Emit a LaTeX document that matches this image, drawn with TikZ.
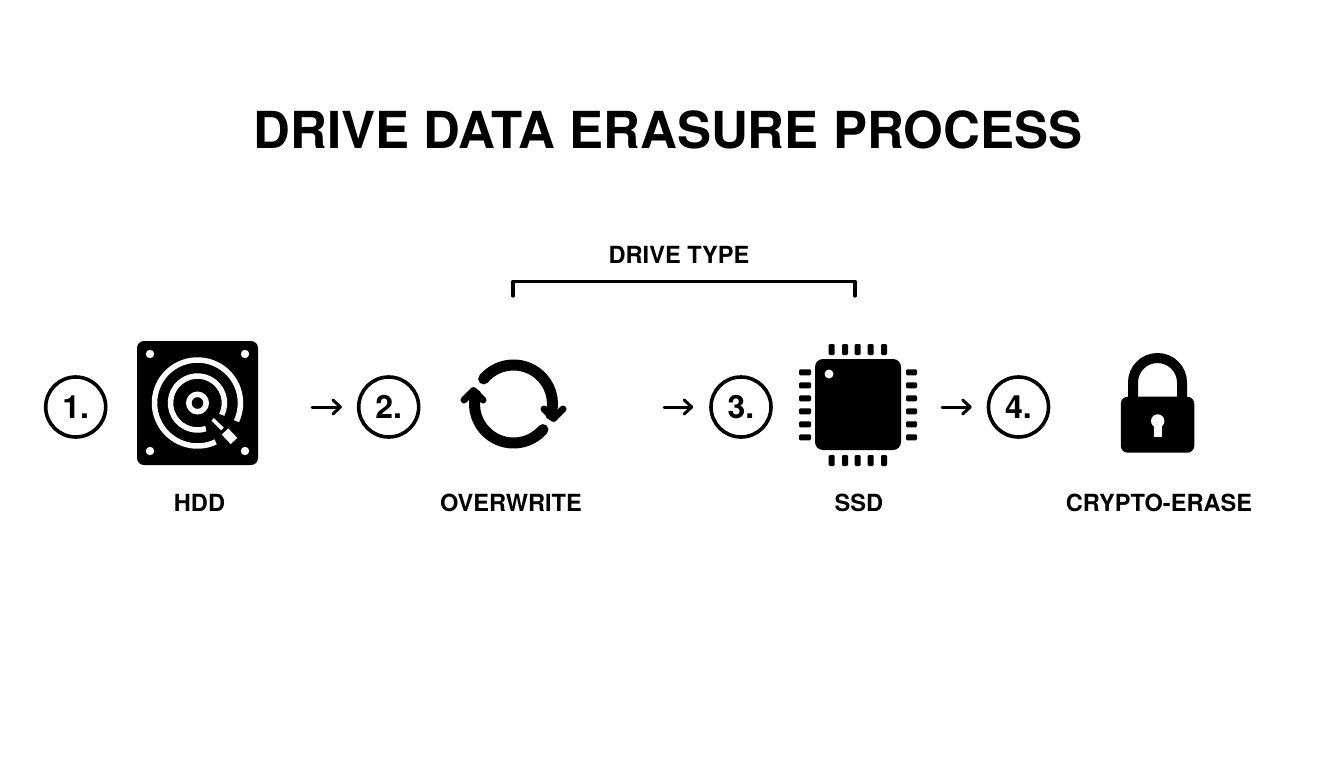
\documentclass[tikz,border=0pt]{standalone}
\usepackage{fontspec}
\setmainfont{TeX Gyre Heros}
\usetikzlibrary{arrows.meta}
\tikzset{
  x=1pt,y=-1pt,
  stepcircle/.style={circle,draw=black,line width=3.6pt,minimum size=60pt,inner sep=0pt,font=\fontsize{32}{32}\selectfont\bfseries,fill=white},
  caption/.style={font=\fontsize{23.6}{23.6}\selectfont\bfseries,text=black,inner sep=0pt,anchor=base},
  flow/.style={line width=3pt,line cap=round,-{Straight Barb[length=7.5pt,width=14pt,line width=3pt,round]}},
  iconbox/.style={inner sep=0pt,outer sep=0pt,rectangle},
  bracketline/.style={line width=3.2pt,line cap=round,line join=round},
  ring/.style={line width=5.5pt,draw=white},
  pin/.style={fill=black,rounded corners=1.2pt},
  spin/.style={line width=11pt,line cap=round,draw=black},
  spinhead/.style={line width=7pt,line cap=round,line join=round,draw=black}
}
\begin{document}
\begin{tikzpicture}
\useasboundingbox (0,0) rectangle (1344,768);
\fill[white] (0,0) rectangle (1344,768);
\node[font=\fontsize{51}{51}\selectfont\bfseries,inner sep=0pt,anchor=base] (title) at (668,148.5) {DRIVE DATA ERASURE PROCESS};
% step circles
\node[stepcircle] (n1) at (75.7,407) {1.};
\node[stepcircle] (n2) at (388.7,407) {2.};
\node[stepcircle] (n3) at (741,407) {3.};
\node[stepcircle] (n4) at (1018.5,407) {4.};
% HDD
\node[iconbox,fill=black,rounded corners=7pt,minimum width=121pt,minimum height=124pt] (hdd) at (197.5,403) {};
\coordinate (hddc) at (197.5,403);
\foreach \p in {(150,354),(245,354),(150,451),(245,451)} \fill[white] \p circle (4.2);
\draw[ring] (hddc) circle (8.7);
\draw[ring] ([shift={(72:27)}]hddc) arc[start angle=72,end angle=386,radius=27];
\draw[ring] ([shift={(65:43)}]hddc) arc[start angle=65,end angle=385,radius=43];
\draw[white,line width=3.6pt] (212.7,419.3) -- (222.5,429);
\draw[white,line width=9pt] (225,431.5) -- (234,441);
% overwrite
\node[iconbox,minimum width=107pt,minimum height=90pt] (sync) at (513.5,407) {};
\coordinate (syncc) at (513.5,404);
\draw[spin] ([shift={(-140:39)}]syncc) arc[start angle=-140,end angle=16,radius=39];
\draw[spin] ([shift={(41:39)}]syncc) arc[start angle=41,end angle=194,radius=39];
\draw[spinhead] (544,409) -- (553.5,418.5) -- (563,409);
\draw[spinhead] (464,400) -- (473.5,390.5) -- (483,400);
% SSD
\node[iconbox,fill=black,rounded corners=8pt,minimum width=86pt,minimum height=91pt] (chip) at (858,404.5) {};
\fill[white] (829,374) circle (4.5);
\foreach \x in {831.7,845,857.7,870.7,884} {
  \fill[pin] (\x-3,344) rectangle (\x+3,355);
  \fill[pin] (\x-3,455) rectangle (\x+3,466);
}
\foreach \y in {372.3,385.3,398.3,411.3,424.3,437.3} {
  \fill[pin] (799,\y-3) rectangle (811,\y+3);
  \fill[pin] (906,\y-3) rectangle (917,\y+3);
}
% lock
\node[iconbox,fill=black,rounded corners=7pt,minimum width=73.5pt,minimum height=56pt] (lock) at (1157.5,424.7) {};
\draw[black,line width=10pt] (1133,398) -- (1133,382.5) arc[start angle=180,end angle=360,radius=24.5] -- (1182,398);
\fill[white] (1157.7,421) circle (6.7);
\fill[white] (1153.7,422) rectangle (1161.9,436.7);
% arrows
\draw[flow,shorten <=54pt,shorten >=15pt] (hdd.east |- n2) -- (n2.west);
\draw[flow,shorten <=97pt,shorten >=16pt] (sync.east) -- (n3.west);
\draw[flow,shorten <=41pt,shorten >=15pt] (chip.east |- n3) -- (n4.west);
% bracket
\coordinate (bl) at (513,296);
\coordinate (br) at (855,296);
\coordinate (bt) at (855,281.5);
\draw[bracketline] (bl) |- (bt) -- (br);
\node[caption] (type) at (679,263.3) {DRIVE TYPE};
% labels
\node[caption] (l1) at (199.5,511) {HDD};
\node[caption] (l2) at (511,511) {OVERWRITE};
\node[caption] (l3) at (859,511) {SSD};
\node[caption] (l4) at (1159,511) {CRYPTO-ERASE};
\end{tikzpicture}
\end{document}
